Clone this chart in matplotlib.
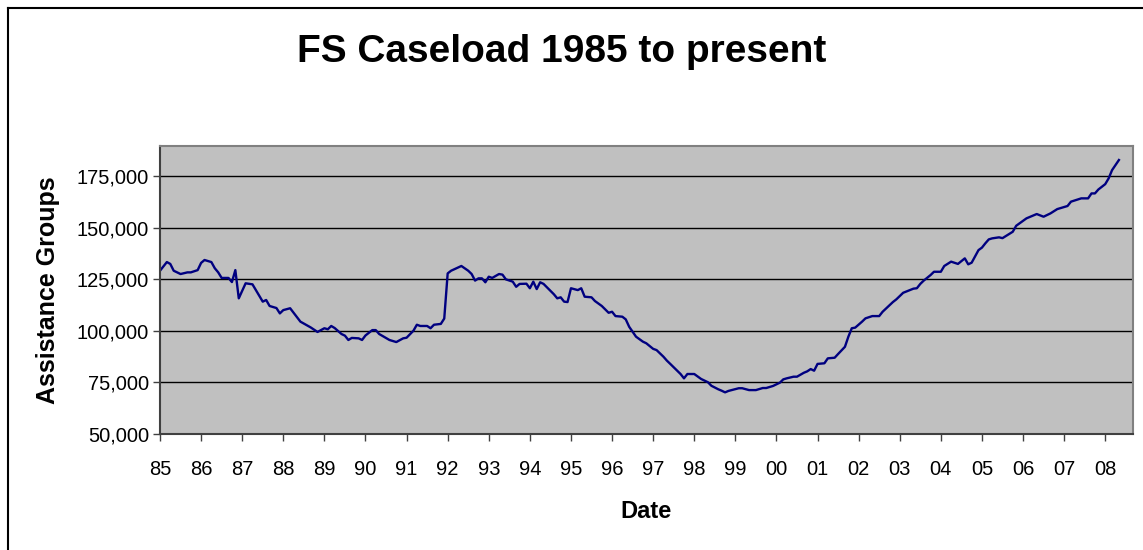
import matplotlib
matplotlib.use('Agg')
import matplotlib.pyplot as plt
from matplotlib.lines import Line2D
from matplotlib.ticker import FuncFormatter

plt.rcParams['font.family'] = ['Liberation Sans', 'DejaVu Sans']

# months since Jan 1985, assistance groups
months = [0, 2, 3, 4, 6, 8, 9, 11, 12, 13, 15, 16, 17, 18, 20, 21, 22, 23, 25, 27,
          28, 30, 31, 32, 34, 35, 36, 38, 41, 44, 46, 48, 49, 50, 51, 53, 54, 55, 56, 58,
          59, 60, 62, 63, 64, 67, 69, 71, 72, 74, 75, 76, 78, 79, 80, 82, 83, 84, 85, 88,
          90, 91, 92, 93, 94, 95, 96, 97, 99, 100, 101, 103, 104, 105, 107, 108, 109, 110, 111, 112,
          114, 115, 116, 117, 118, 119, 120, 122, 123, 124, 126, 127, 129, 131, 132, 133, 135, 136, 137, 138,
          139, 141, 142, 144, 145, 147, 148, 149, 151, 152, 153, 154, 156, 158, 160, 161, 163, 164, 165, 166,
          169, 170, 172, 174, 176, 177, 179, 181, 182, 183, 185, 186, 188, 189, 190, 191, 192, 194, 195, 197,
          198, 200, 201, 202, 203, 205, 206, 208, 210, 211, 214, 215, 217, 220, 221, 222, 223, 225, 226, 228,
          229, 231, 233, 235, 236, 237, 239, 240, 241, 242, 243, 245, 246, 249, 250, 253, 256, 258, 260, 262,
          265, 266, 269, 271, 272, 273, 274, 276, 277, 278, 280]
groups = [129200, 133400, 132500, 129200, 127600, 128400, 128400, 129500, 133000, 134400,
          133400, 130400, 128400, 125700, 125700, 123700, 129500, 115800, 123100, 122600,
          119800, 114200, 115000, 112100, 111100, 108500, 110100, 111000, 104500, 101700,
          99500, 101300, 100800, 102400, 101400, 98500, 97700, 95600, 96600, 96400,
          95600, 97800, 100400, 100400, 98500, 95600, 94600, 96400, 96700, 100100,
          103000, 102400, 102400, 101300, 103000, 103400, 106000, 127900, 129200, 131500,
          129200, 127600, 124400, 125500, 125500, 123600, 126300, 125700, 127600, 127300,
          125000, 123900, 121400, 122800, 122900, 120700, 123900, 120300, 123600, 122800,
          119500, 117800, 115800, 116300, 114200, 114000, 120700, 119800, 120700, 116600,
          116300, 114500, 112100, 108800, 109300, 107200, 106900, 105600, 102000, 99600,
          97200, 94800, 94000, 91300, 90700, 87500, 85600, 84000, 80700, 79100,
          77000, 79100, 79100, 76700, 75100, 73400, 71700, 71000, 70200, 70900,
          72200, 72200, 71300, 71300, 72300, 72300, 73300, 74900, 76500, 77000,
          77800, 77800, 79700, 80400, 81500, 80700, 84000, 84300, 86700, 87000,
          88800, 92300, 97200, 101300, 101600, 104500, 106100, 107200, 107200, 109300,
          114000, 115300, 118500, 120500, 120700, 122800, 124400, 127100, 128700, 128700,
          131500, 133600, 132500, 135200, 132300, 133100, 139200, 140400, 142500, 144400,
          144900, 145400, 145000, 148100, 151000, 154600, 156700, 155400, 157000, 159100,
          160600, 162700, 164300, 164300, 166700, 166700, 168600, 171200, 174000, 178000,
          182900]

year_labels = ['85', '86', '87', '88', '89', '90', '91', '92', '93', '94', '95', '96',
               '97', '98', '99', '00', '01', '02', '03', '04', '05', '06', '07', '08']
y_ticks = [50000, 75000, 100000, 125000, 150000, 175000]

fig = plt.figure(figsize=(11.43, 5.5), dpi=100)
ax = fig.add_axes([160/1143, 116/550, 973.3/1143, 288/550])
ax.set_facecolor('#c0c0c0')

ax.plot(months, groups, color='#000080', lw=1.7)

ax.set_xlim(0, 284.2)
ax.set_ylim(50000, 189700)
ax.set_yticks(y_ticks)
ax.yaxis.set_major_formatter(FuncFormatter(lambda v, p: f'{int(v):,}'))
ax.set_xticks(range(0, 12*len(year_labels), 12))
ax.set_xticklabels(year_labels)
ax.grid(axis='y', color='black', lw=1)
ax.set_axisbelow(True)

ax.tick_params(axis='both', labelsize=14.5, length=5, width=1, color='#404040')
ax.tick_params(axis='x', pad=14)
ax.tick_params(axis='y', pad=3)
for s in ['left', 'bottom']:
    ax.spines[s].set_color('#404040')
    ax.spines[s].set_linewidth(1.5)
for s in ['top', 'right']:
    ax.spines[s].set_color('#808080')
    ax.spines[s].set_linewidth(1.5)

fig.text(562/1143, 1 - 52/550, 'FS Caseload 1985 to present', fontsize=28,
         fontweight='bold', ha='center', va='center')
fig.text(48/1143, 1 - 290/550, 'Assistance Groups', fontsize=18, fontweight='bold',
         rotation=90, ha='center', va='center')
fig.text(646/1143, 1 - 511/550, 'Date', fontsize=17, fontweight='bold',
         ha='center', va='center')

# outer chart border (left and top edges visible)
fig.add_artist(Line2D([8/1143, 8/1143], [0, 1 - 8/550], color='black', lw=1.5,
                      transform=fig.transFigure))
fig.add_artist(Line2D([8/1143, 1], [1 - 8/550, 1 - 8/550], color='black', lw=1.5,
                      transform=fig.transFigure))

fig.savefig('out.png', dpi=100)
